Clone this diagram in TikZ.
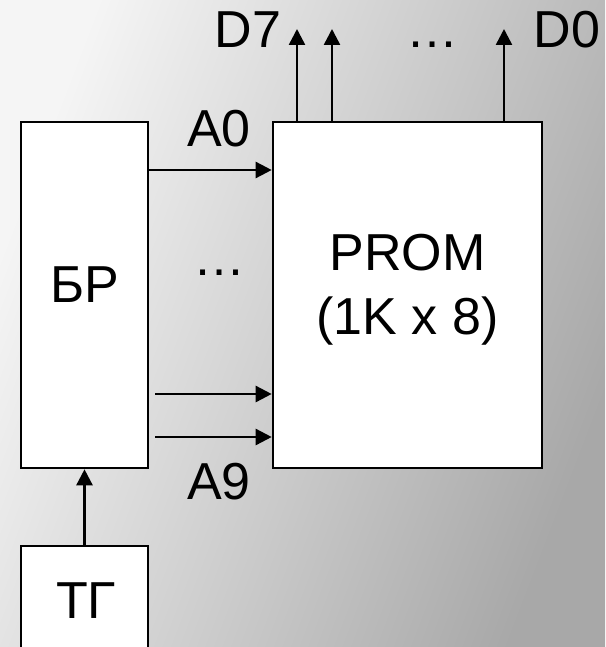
\documentclass[tikz,border=0pt]{standalone}
\usepackage{fontspec}
\setmainfont{Liberation Sans}
\usetikzlibrary{arrows.meta}
\begin{document}
\begin{tikzpicture}[x=1pt,y=-1pt,
  box/.style={draw=black, fill=white, line width=2.6pt, inner sep=0pt},
  txt/.style={font=\fontsize{52}{64}\selectfont, inner sep=0pt, anchor=base},
  arr/.style={line width=2.5pt, -{Triangle[length=16pt,width=16pt]}}]
\useasboundingbox (0,0) rectangle (605,647);
\clip (0,0) rectangle (605,647);
\shade[top color=black!4, bottom color=black!34, shading angle=69] (0,0) rectangle (605,647);
\node[box, minimum width=127pt, minimum height=346pt] (br) at (84.5,295) {};
\node[box, minimum width=269pt, minimum height=346pt] (prom) at (407.5,295) {};
\node[box, minimum width=127pt, minimum height=108pt] (tg) at (84.5,600) {};
\node[txt] (brlabel) at (85,302) {БР};
\node[txt] (tglabel) at (86,618) {ТГ};
\node[txt] (promlabel1) at (407.5,270) {PROM};
\node[txt] (promlabel2) at (407.5,334) {(1K x 8)};
\node[txt] (a0) at (219,147) {A0};
\node[txt] (a9) at (219,499) {A9};
\node[txt] (dots1) at (219,275) {…};
\node[txt] (d7) at (248,48) {D7};
\node[txt] (dots2) at (432,48) {…};
\node[txt] (d0) at (567,48) {D0};
\coordinate (t7) at (297,29);
\coordinate (t6) at (332,29);
\coordinate (t0) at (504,29);
\coordinate (r0) at (148,170);
\coordinate (r1) at (155,394);
\coordinate (r2) at (155,437);
\draw[arr] (prom.north -| t7) -- (t7);
\draw[arr] (prom.north -| t6) -- (t6);
\draw[arr] (prom.north -| t0) -- (t0);
\draw[arr] (br.east |- r0) -- (prom.west |- r0);
\draw[arr] (r1) -- (prom.west |- r1);
\draw[arr] (r2) -- (prom.west |- r2);
\draw[arr] (tg.north) -- (br.south);
\end{tikzpicture}
\end{document}
